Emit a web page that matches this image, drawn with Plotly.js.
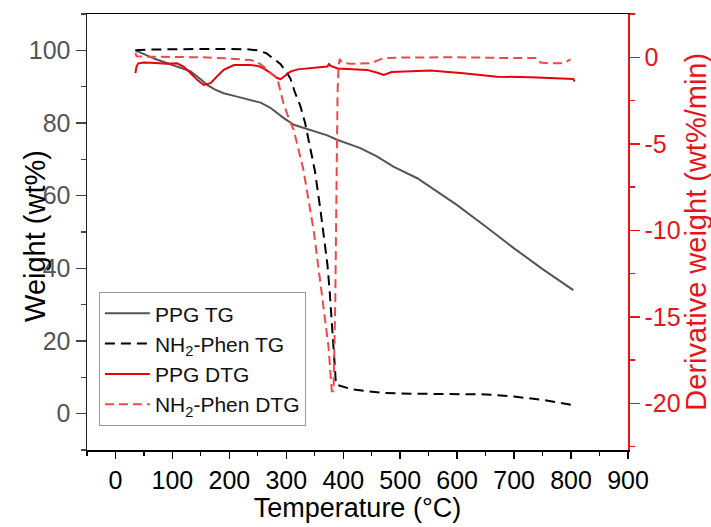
<!DOCTYPE html>
<html>
<head>
<meta charset="utf-8">
<script src="https://cdn.plot.ly/plotly-3.0.1.min.js"></script>
<style>html,body{margin:0;padding:0;background:#fff;}#chart{width:711px;height:527px;}</style>
</head>
<body>
<div id="chart"></div>
<script>
// ---- Data ----
const ppgTG_T = [35, 50, 61, 70, 90, 108, 132, 150, 161, 175, 190, 210, 237, 255, 272, 295, 313, 335, 354, 372, 389, 410, 430, 459, 488, 530, 571, 600, 650, 700, 750, 804];
const ppgTG_W = [100, 98.9, 98.3, 97.6, 96.5, 95.6, 94.2, 92.0, 90.5, 89.2, 88.2, 87.4, 86.4, 85.6, 84.2, 81.4, 79.5, 78.4, 77.6, 76.6, 75.4, 74.3, 73.1, 70.8, 68.0, 64.8, 60.6, 57.4, 51.5, 45.5, 39.8, 34.0];

const phenTG_T = [35, 60, 100, 150, 200, 230, 250, 265, 280, 290, 300, 307, 315, 325, 333, 342, 350, 360, 366, 372, 376, 380.5, 384, 386, 387, 395, 413, 440, 471, 520, 582, 650, 700, 750, 780, 804];
const phenTG_W = [100, 100.2, 100.3, 100.4, 100.4, 100.3, 100.0, 99.2, 97.5, 96.2, 94.0, 92.3, 88.5, 84.5, 80.0, 73.5, 67.0, 56.0, 49.0, 41.3, 34.0, 24.8, 16.0, 11.0, 8.0, 7.6, 6.8, 6.2, 5.7, 5.5, 5.5, 5.3, 4.7, 3.8, 3.0, 2.3];

const ppgDTG_T = [35, 37, 40, 50, 70, 90, 108, 120, 132, 145, 155, 167, 180, 190, 208, 237, 250, 260, 272, 284, 290, 298, 307, 320, 337, 355, 372, 375, 378, 390, 413, 442, 460, 471, 485, 500, 553, 611, 670, 729, 790, 804, 806];
const ppgDTG_V = [-0.92, -0.54, -0.35, -0.30, -0.33, -0.38, -0.35, -0.55, -0.92, -1.35, -1.60, -1.50, -1.05, -0.73, -0.45, -0.45, -0.50, -0.64, -0.90, -1.20, -1.27, -1.05, -0.83, -0.70, -0.64, -0.58, -0.54, -0.40, -0.50, -0.65, -0.69, -0.73, -0.90, -1.02, -0.85, -0.83, -0.77, -0.92, -1.12, -1.16, -1.20, -1.25, -1.40];

const phenDTG_T = [35, 37, 60, 100, 150, 190, 220, 237, 250, 260, 270, 284, 295, 305, 313, 330, 348, 363, 374, 378, 380, 383, 386, 388, 390, 392, 394, 397, 405, 413, 448, 465, 471, 500, 600, 700, 741, 746, 760, 781, 790, 799];
const phenDTG_V = [0.25, 0.05, 0.03, 0.02, 0.0, -0.06, -0.10, -0.16, -0.30, -0.54, -0.85, -1.20, -2.66, -3.60, -4.20, -6.50, -10.0, -13.8, -16.7, -18.5, -19.3, -19.3, -14.0, -8.0, -2.0, -0.40, -0.10, -0.30, -0.35, -0.38, -0.35, -0.10, -0.05, -0.02, 0.0, -0.05, -0.05, -0.30, -0.35, -0.35, -0.30, -0.12];

const seriesNames = ["PPG TG", "NH<sub>2</sub>-Phen TG", "PPG DTG", "NH<sub>2</sub>-Phen DTG"];
const xTickVals = [0, 100, 200, 300, 400, 500, 600, 700, 800, 900];
const yLeftTickVals = [0, 20, 40, 60, 80, 100];
const yRightTickVals = [-20, -15, -10, -5, 0];

const RED = '#e8141c';
const FONT = '"Liberation Sans", Arial, sans-serif';

const traces = [
  {x: ppgTG_T, y: ppgTG_W, name: seriesNames[0], type: 'scatter', mode: 'lines',
   line: {color: '#555555', width: 2}, yaxis: 'y'},
  {x: phenTG_T, y: phenTG_W, name: seriesNames[1], type: 'scatter', mode: 'lines',
   line: {color: '#000000', width: 2, dash: '10px,6px'}, yaxis: 'y'},
  {x: ppgDTG_T, y: ppgDTG_V, name: seriesNames[2], type: 'scatter', mode: 'lines',
   line: {color: '#e8000b', width: 2}, yaxis: 'y2'},
  {x: phenDTG_T, y: phenDTG_V, name: seriesNames[3], type: 'scatter', mode: 'lines',
   line: {color: '#f04848', width: 2, dash: '9px,5px'}, yaxis: 'y2'}
];

const layout = {
  width: 711, height: 527,
  margin: {l: 87, r: 83, t: 14, b: 77},
  paper_bgcolor: '#ffffff', plot_bgcolor: '#ffffff',
  font: {family: FONT, color: '#000'},
  showlegend: true,
  legend: {x: 0.022, y: 0.362, xanchor: 'left', yanchor: 'top',
           bgcolor: '#ffffff', bordercolor: '#999999', borderwidth: 1,
           itemwidth: 45, tracegroupgap: 0,
           font: {family: FONT, size: 21, color: '#111'}},
  xaxis: {
    range: [-50, 900], tickvals: xTickVals, ticktext: xTickVals.map(String),
    showgrid: false, zeroline: false, showline: true, linecolor: '#000', linewidth: 1.5,
    mirror: true, ticks: 'outside', ticklen: 7, tickwidth: 1.5, tickcolor: '#000',
    minor: {dtick: 50, tick0: 0, ticks: 'outside', ticklen: 4, tickwidth: 1.2, tickcolor: '#000', showgrid: false},
    tickfont: {family: FONT, size: 25, color: '#000'},
    title: {text: 'Temperature (°C)', font: {family: FONT, size: 27, color: '#000'}, standoff: 4}
  },
  yaxis: {
    range: [-10, 110], tickvals: yLeftTickVals, ticktext: yLeftTickVals.map(String),
    showgrid: false, zeroline: false, showline: true, linecolor: '#222', linewidth: 1.5,
    ticks: 'outside', ticklen: 10, tickwidth: 1.5, tickcolor: '#444',
    minor: {dtick: 10, tick0: 0, ticks: 'outside', ticklen: 5, tickwidth: 1.2, tickcolor: '#444', showgrid: false},
    tickfont: {family: FONT, size: 25, color: '#555'}
  },
  yaxis2: {
    overlaying: 'y', side: 'right',
    range: [-22.7, 2.5], tickvals: yRightTickVals, ticktext: yRightTickVals.map(String),
    showgrid: false, zeroline: false, showline: true, linecolor: RED, linewidth: 1.5,
    ticks: 'outside', ticklen: 10, tickwidth: 1.5, tickcolor: RED,
    minor: {dtick: 2.5, tick0: 0, ticks: 'outside', ticklen: 5, tickwidth: 1.2, tickcolor: RED, showgrid: false},
    tickfont: {family: FONT, size: 25, color: RED}
  },
  annotations: [
    {text: 'Weight (wt%)', xref: 'paper', yref: 'paper', x: -0.095, y: 0.49,
     xanchor: 'center', yanchor: 'middle', textangle: -90, showarrow: false,
     font: {family: FONT, size: 29, color: '#000'}},
    {text: 'Derivative weight (wt%/min)', xref: 'paper', yref: 'paper', x: 1.125, y: 0.5,
     xanchor: 'center', yanchor: 'middle', textangle: -90, showarrow: false,
     font: {family: FONT, size: 29, color: RED}}
  ]
};

Plotly.newPlot('chart', traces, layout, {displayModeBar: false, staticPlot: true});
</script>
</body>
</html>
